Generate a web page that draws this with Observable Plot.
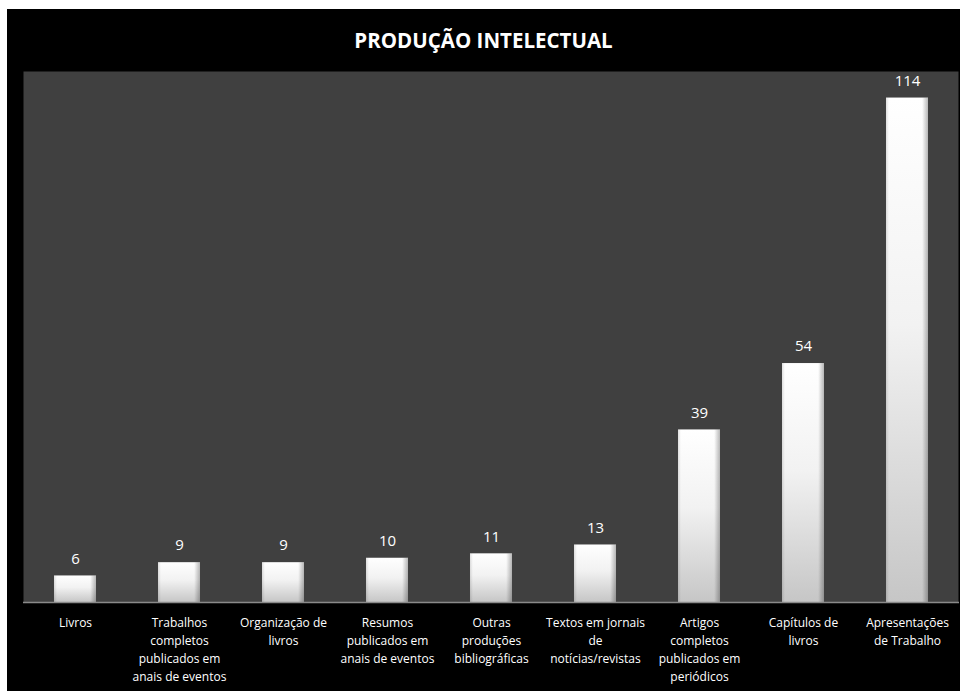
<!DOCTYPE html>
<html>
<head>
<meta charset="utf-8">
<script src="https://cdn.jsdelivr.net/npm/d3@7"></script>
<script src="https://cdn.jsdelivr.net/npm/@observablehq/plot@0.6"></script>
<style>
  html, body { margin: 0; padding: 0; background: #ffffff; }
  #wrap { position: absolute; left: 7px; top: 9px; width: 953px; height: 682px; background: #000; overflow: hidden; }
  #title { height: 62px; line-height: 62px; text-align: center; color: #fff; font-family: "Open Sans", sans-serif; font-weight: 700; font-size: 20.5px; }
  svg { display: block; }
</style>
</head>
<body>
<div id="wrap">
  <div id="title">PRODUÇÃO INTELECTUAL</div>
  <div id="chart"></div>
</div>
<script>
const categories = [
  "Livros",
  "Trabalhos completos publicados em anais de eventos",
  "Organização de livros",
  "Resumos publicados em anais de eventos",
  "Outras produções bibliográficas",
  "Textos em jornais de notícias/revistas",
  "Artigos completos publicados em periódicos",
  "Capítulos de livros",
  "Apresentações de Trabalho"
];
const values = [6, 9, 9, 10, 11, 13, 39, 54, 114];
const tickLabels = [
  "Livros",
  "Trabalhos\ncompletos\npublicados em\nanais de eventos",
  "Organização de\nlivros",
  "Resumos\npublicados em\nanais de eventos",
  "Outras\nproduções\nbibliográficas",
  "Textos em jornais\nde\nnotícias/revistas",
  "Artigos\ncompletos\npublicados em\nperiódicos",
  "Capítulos de\nlivros",
  "Apresentações\nde Trabalho"
];

const data = categories.map((c, i) => ({category: c, value: values[i]}));
const labelOf = new Map(categories.map((c, i) => [c, tickLabels[i]]));

const chart = Plot.plot({
  width: 953,
  height: 620,
  marginTop: 0,
  marginLeft: 16,
  marginRight: 1,
  marginBottom: 89,
  style: {background: "transparent", color: "#fff", fontFamily: "Open Sans, sans-serif"},
  x: {domain: categories, paddingInner: 0.596, paddingOuter: 0.298, align: 0.5, round: false, label: null},
  y: {domain: [0, 120], axis: null},
  marks: [
    Plot.frame({fill: "#404040", stroke: null, insetRight: 1}),
    Plot.barY(data, {x: "category", y: "value", fill: "url(#barV)"}),
    Plot.barY(data, {x: "category", y: "value", fill: "url(#barH)"}),
    Plot.ruleY([0], {stroke: "#8a8a8a", strokeWidth: 1.5}),
    Plot.text(data, {x: "category", y: "value", text: d => String(d.value), dy: -17, fill: "#fff", fontSize: 15}),
    Plot.axisX({
      tickSize: 0,
      tickPadding: 12,
      fontSize: 12,
      lineHeight: 1.5,
      fill: "#fff",
      label: null,
      tickFormat: d => labelOf.get(d)
    })
  ]
});

const ns = "http://www.w3.org/2000/svg";
const defs = document.createElementNS(ns, "defs");
defs.innerHTML = `
  <linearGradient id="barV" x1="0" y1="0" x2="0" y2="1">
    <stop offset="0" stop-color="#ffffff"/>
    <stop offset="0.45" stop-color="#f2f2f2"/>
    <stop offset="1" stop-color="#c6c6c6"/>
  </linearGradient>
  <linearGradient id="barH" x1="0" y1="0" x2="1" y2="0">
    <stop offset="0" stop-color="#000" stop-opacity="0.12"/>
    <stop offset="0.07" stop-color="#000" stop-opacity="0"/>
    <stop offset="0.86" stop-color="#000" stop-opacity="0"/>
    <stop offset="1" stop-color="#000" stop-opacity="0.28"/>
  </linearGradient>`;
chart.insertBefore(defs, chart.firstChild);
document.getElementById("chart").appendChild(chart);
</script>
</body>
</html>
